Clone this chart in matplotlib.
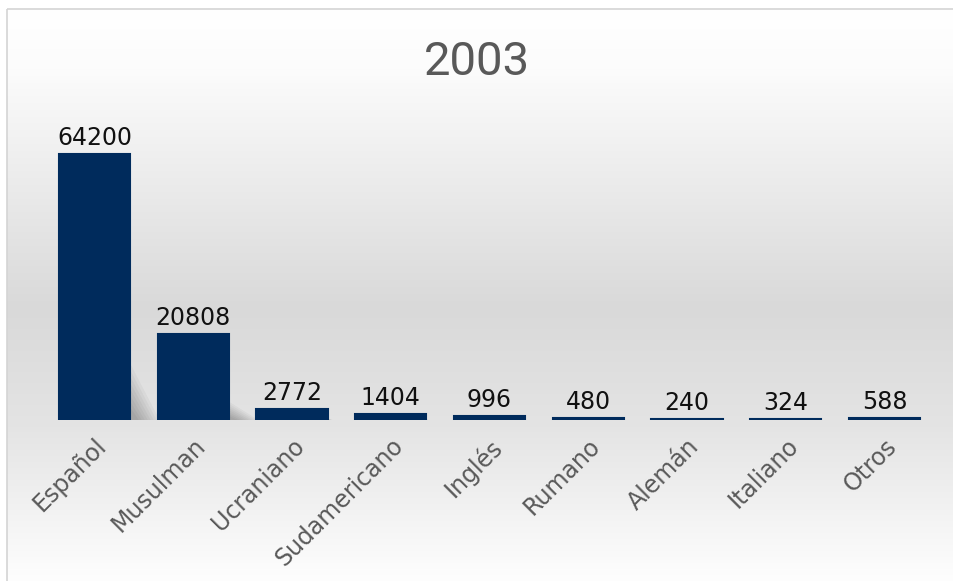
import numpy as np
import matplotlib
matplotlib.use("Agg")
import matplotlib.pyplot as plt
from matplotlib.patches import Rectangle, Polygon

categorias = ["Español", "Musulman", "Ucraniano", "Sudamericano", "Inglés",
              "Rumano", "Alemán", "Italiano", "Otros"]
valores = [64200, 20808, 2772, 1404, 996, 480, 240, 324, 588]
titulo = "2003"

W, H = 954, 581
fig = plt.figure(figsize=(W / 100, H / 100), dpi=100)
fig.patch.set_facecolor("white")

# fondo degradado del area del grafico
bg = fig.add_axes([0, 0, 1, 1])
bg.axis("off")
ys = np.array([0, 60, 300, 420, 581])
cs = np.array([255, 252, 217, 228, 255])
grad = np.interp(np.arange(H), ys, cs) / 255.0
img = np.repeat(grad[:, None], 2, axis=1)
img = np.dstack([img, img, img])
bg.imshow(img, extent=[7, W + 5, H + 5, 9], aspect="auto", zorder=0)
bg.add_patch(Rectangle((7, 9), W, H, fill=False, edgecolor="#d4d4d4", lw=1.2, zorder=1))
bg.set_xlim(0, W)
bg.set_ylim(H, 0)

# ejes de barras (pixeles: x 45..934, base y=420)
x0, x1 = 45, 934
ybase, ytop = 420, 100
ax = fig.add_axes([x0 / W, 1 - ybase / H, (x1 - x0) / W, (ybase - ytop) / H])
ax.patch.set_alpha(0)
pos = np.arange(len(categorias))
ymax = valores[0] * (ybase - ytop) / 266.0
ancho = 0.72

# sombra difusa detras de las barras
for p, v in zip(pos, valores):
    xr = p + ancho / 2
    esc = min(1.0, v / 15000.0)
    for k in range(8):
        f = 1 - k * 0.1
        sh = Polygon([(xr - 0.05, 0), (xr - 0.05, v * 0.25 * f),
                      (xr + 0.3 * f * esc, 0)], closed=True,
                     facecolor="black", edgecolor="none", alpha=0.035, zorder=2)
        ax.add_patch(sh)

ax.bar(pos, valores, width=ancho, color="#002b5c", edgecolor="#002b5c", linewidth=1.5, zorder=3)
ax.set_xlim(-0.5, len(categorias) - 0.5)
ax.set_ylim(0, ymax)
for p, v in zip(pos, valores):
    ax.text(p, v + ymax * 0.012, str(v), ha="center", va="bottom",
            fontsize=17, color="#111111", family="DejaVu Sans")
for s in ax.spines.values():
    s.set_visible(False)
ax.set_yticks([])
ax.set_xticks(pos)
ax.set_xticklabels(categorias, rotation=45, ha="right", rotation_mode="anchor",
                   fontsize=17, color="#595959", family="DejaVu Sans")
ax.tick_params(axis="x", length=0, pad=10)

fig.text(0.5, 1 - 62 / H, titulo, ha="center", va="center", fontsize=34,
         color="#595959", family=["Roboto", "DejaVu Sans"])

fig.savefig("out.png", dpi=100)
